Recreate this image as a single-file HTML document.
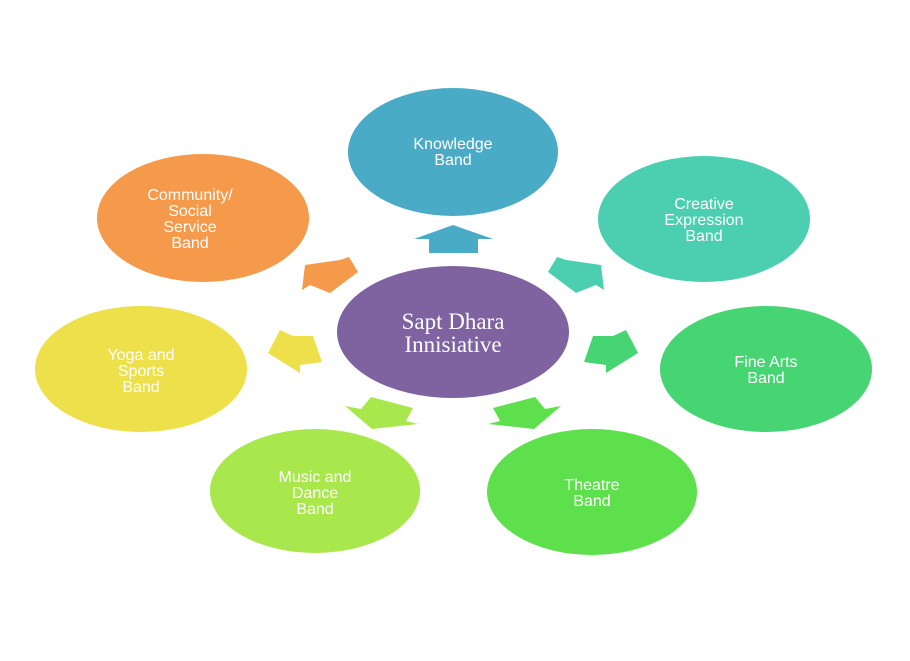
<!DOCTYPE html>
<html><head><meta charset="utf-8"><style>
html,body{margin:0;padding:0;background:#fff;}
svg{display:block;}
.t{font-family:"Liberation Sans",sans-serif;font-size:16px;fill:#fff;text-anchor:middle;}
.c{font-family:"Liberation Serif",serif;font-size:23px;fill:#fff;text-anchor:middle;}
</style></head><body>
<svg width="910" height="661" viewBox="0 0 910 661">
<ellipse cx="453" cy="152" rx="105" ry="64" fill="#4aabc6"/>
<ellipse cx="704" cy="219" rx="106" ry="63" fill="#4ccfb1"/>
<ellipse cx="766" cy="369" rx="106" ry="63" fill="#47d472"/>
<ellipse cx="592" cy="492" rx="105" ry="63" fill="#5ee04d"/>
<ellipse cx="315" cy="491" rx="105" ry="62" fill="#a8e84d"/>
<ellipse cx="141" cy="369" rx="106" ry="63" fill="#ede04a"/>
<ellipse cx="203" cy="218" rx="106" ry="64" fill="#f5994a"/>
<ellipse cx="453" cy="332" rx="116" ry="66" fill="#7f63a1"/>
<polygon points="453,225 493,239 478,239 478,253 429,253 429,239 414,239" fill="#4aabc6"/>
<polygon points="305,265 340,260 349,257 358,272 330,293 310,285 302,290" fill="#f5994a"/>
<polygon points="601,265 566,260 557,257 548,272 576,293 596,285 604,290" fill="#4ccfb1"/>
<polygon points="268,353 280,330 293,336 313,336 322,362 300,365 300,373" fill="#ede04a"/>
<polygon points="638,353 626,330 613,336 593,336 584,362 606,365 606,373" fill="#47d472"/>
<polygon points="345,406 361,409 371,397 413,408 406,421 418,424 372,429" fill="#a8e84d"/>
<polygon points="561,406 545,409 535,397 493,408 500,421 488,424 534,429" fill="#5ee04d"/>
<text class="c" x="453" y="329">Sapt Dhara</text>
<text class="c" x="453" y="352">Innisiative</text>
<text class="t" x="453" y="149">Knowledge</text><text class="t" x="453" y="165">Band</text>
<text class="t" x="704" y="209">Creative</text><text class="t" x="704" y="225">Expression</text><text class="t" x="704" y="241">Band</text>
<text class="t" x="766" y="367">Fine Arts</text><text class="t" x="766" y="383">Band</text>
<text class="t" x="592" y="490">Theatre</text><text class="t" x="592" y="506">Band</text>
<text class="t" x="315" y="482">Music and</text><text class="t" x="315" y="498">Dance</text><text class="t" x="315" y="514">Band</text>
<text class="t" x="141" y="360">Yoga and</text><text class="t" x="141" y="376">Sports</text><text class="t" x="141" y="392">Band</text>
<text class="t" x="190" y="200">Community/</text><text class="t" x="190" y="216">Social</text><text class="t" x="190" y="232">Service</text><text class="t" x="190" y="248">Band</text>
</svg>
</body></html>
